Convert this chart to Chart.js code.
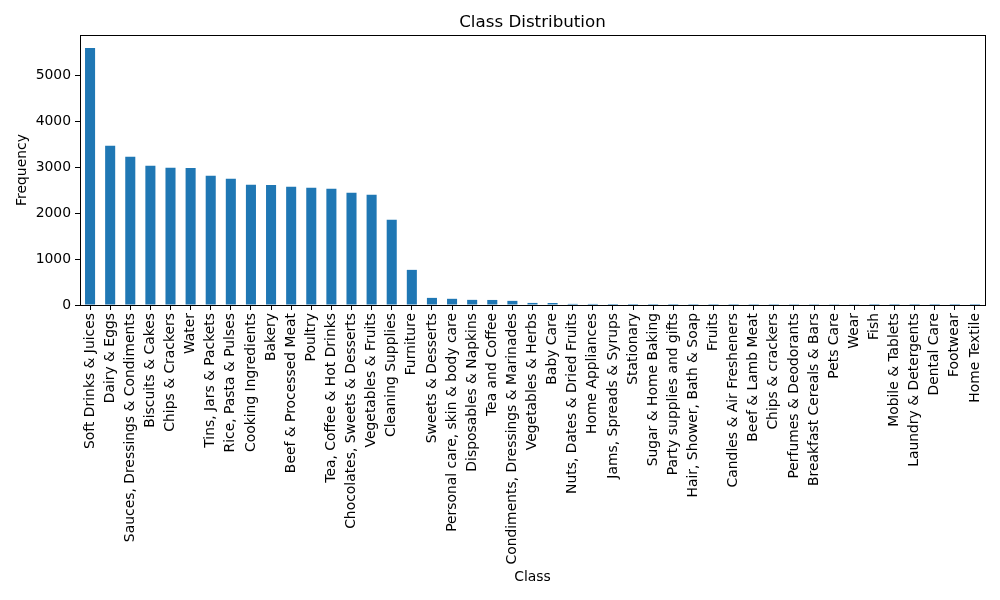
<!DOCTYPE html>
<html>
<head>
<meta charset="utf-8">
<script src="https://cdn.jsdelivr.net/npm/chart.js@4/dist/chart.umd.min.js"></script>
<style>
  body { margin: 0; background: #fff; }
  #wrap { width: 1000px; height: 600px; }
</style>
</head>
<body>
<div id="wrap"><canvas id="chart"></canvas></div>
<script>
// Datos del grafico
var categories = [
  'Soft Drinks & Juices', 'Dairy & Eggs', 'Sauces, Dressings & Condiments', 'Biscuits & Cakes',
  'Chips & Crackers', 'Water', 'Tins, Jars & Packets', 'Rice, Pasta & Pulses', 'Cooking Ingredients',
  'Bakery', 'Beef & Processed Meat', 'Poultry', 'Tea, Coffee & Hot Drinks',
  'Chocolates, Sweets & Desserts', 'Vegetables & Fruits', 'Cleaning Supplies', 'Furniture',
  'Sweets & Desserts', 'Personal care, skin & body care', 'Disposables & Napkins', 'Tea and Coffee',
  'Condiments, Dressings & Marinades', 'Vegetables & Herbs', 'Baby Care', 'Nuts, Dates & Dried Fruits',
  'Home Appliances', 'Jams, Spreads & Syrups', 'Stationary', 'Sugar & Home Baking',
  'Party supplies and gifts', 'Hair, Shower, Bath & Soap', 'Fruits', 'Candles & Air Fresheners',
  'Beef & Lamb Meat', 'Chips & crackers', 'Perfumes & Deodorants', 'Breakfast Cereals & Bars',
  'Pets Care', 'Wear', 'Fish', 'Mobile & Tablets', 'Laundry & Detergents', 'Dental Care',
  'Footwear', 'Home Textile'
];
var frequency = [
  5597, 3466, 3226, 3030, 2987, 2985, 2813, 2748, 2617,
  2615, 2574, 2552, 2530, 2443, 2400, 1856, 765,
  155, 135, 112, 110, 90, 45, 43, 24,
  23, 22, 22, 21, 21, 20, 20, 20,
  19, 19, 18, 18, 17, 16, 1, 1, 1, 1, 1, 1
];
var yTicks = [0, 1000, 2000, 3000, 4000, 5000];

var font = 'DejaVu Sans';

// Marco completo alrededor del area (como matplotlib)
var frame = {
  id: 'frame',
  afterDraw: function (c) {
    var a = c.chartArea, ctx = c.ctx;
    ctx.save();
    ctx.strokeStyle = '#000';
    ctx.lineWidth = 1;
    ctx.strokeRect(Math.round(a.left) + 0.5, Math.round(a.top) + 0.5,
      Math.round(a.right - a.left), Math.round(a.bottom - a.top));
    ctx.restore();
  }
};

var ctx = document.getElementById('chart').getContext('2d');
var chart = new Chart(ctx, {
  type: 'bar',
  data: {
    labels: categories,
    datasets: [{
      label: 'Frequency',
      data: frequency,
      backgroundColor: '#1f77b4',
      barPercentage: 0.5,
      categoryPercentage: 1.0
    }]
  },
  options: {
    responsive: true,
    maintainAspectRatio: false,
    animation: false,
    layout: { padding: { left: 0, right: 15, top: 0, bottom: 0 } },
    plugins: {
      legend: { display: false },
      tooltip: { enabled: false },
      title: {
        display: true,
        fullSize: false,
        text: 'Class Distribution',
        color: '#000',
        font: { family: font, size: 16.7, weight: 'normal' },
        padding: { top: 13, bottom: 2 }
      }
    },
    scales: {
      x: {
        offset: true,
        afterFit: function (s) { s.height = 295; },
        grid: { display: true, drawOnChartArea: false, offset: false, tickLength: 5, color: '#000' },
        border: { display: true, color: '#000' },
        ticks: {
          color: '#000', autoSkip: false, maxRotation: 90, minRotation: 90, padding: 3,
          font: { family: font, size: 13.9 }
        },
        title: {
          display: true, text: 'Class', color: '#000',
          font: { family: font, size: 13.9 }, padding: { top: 4, bottom: 14 }
        }
      },
      y: {
        min: 0,
        max: 5877,
        afterFit: function (s) { s.width = 80; },
        afterBuildTicks: function (s) {
          s.ticks = yTicks.map(function (v) { return { value: v }; });
        },
        grid: { display: true, drawOnChartArea: false, tickLength: 5, color: '#000' },
        border: { display: true, color: '#000' },
        ticks: {
          color: '#000', padding: 4,
          font: { family: font, size: 13.9 },
          callback: function (v) { return String(v); }
        },
        title: {
          display: true, text: 'Frequency', color: '#000',
          font: { family: font, size: 13.9 }, padding: { top: 14, bottom: 4 }
        }
      }
    }
  },
  plugins: [frame]
});
</script>
</body>
</html>
